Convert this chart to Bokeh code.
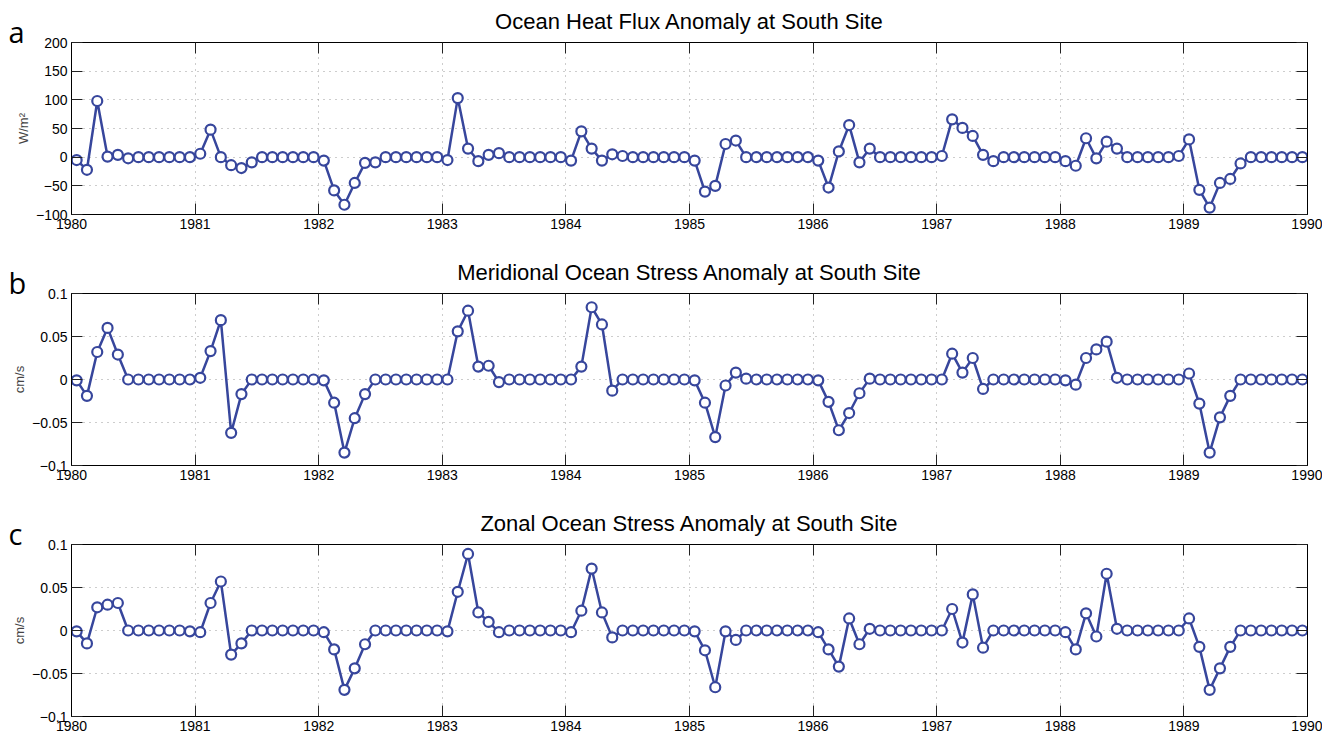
import numpy as np
from bokeh.plotting import figure
from bokeh.layouts import column
from bokeh.models import (Range1d, LinearAxis, FixedTicker, CustomJSTickFormatter,
                          Title, ColumnDataSource)
from bokeh.embed import file_html
from bokeh.resources import INLINE

# ---------------- data ----------------
years = list(range(1980, 1991))
month_index = np.arange(120)
time = 1980 + (month_index + 0.5) / 12.0   # mid-month positions

heat_flux = [
    -5, -22, 98, 1, 4, -2, 0, 0, 0, 0, 0, 0,            # 1980
    6, 48, 0, -14, -19, -9, 0, 0, 0, 0, 0, 0,           # 1981
    -6, -58, -83, -45, -10, -9, 0, 0, 0, 0, 0, 0,       # 1982
    -5, 103, 15, -7, 4, 7, 0, 0, 0, 0, 0, 0,            # 1983
    -6, 45, 15, -6, 5, 2, 0, 0, 0, 0, 0, 0,             # 1984
    -6, -60, -50, 23, 29, 0, 0, 0, 0, 0, 0, 0,          # 1985
    -6, -53, 10, 56, -9, 15, 0, 0, 0, 0, 0, 0,          # 1986
    2, 66, 51, 37, 4, -7, 0, 0, 0, 0, 0, 0,             # 1987
    -7, -15, 33, -2, 27, 15, 0, 0, 0, 0, 0, 2,          # 1988
    31, -57, -88, -45, -38, -11, 0, 0, 0, 0, 0, 0,      # 1989
]

meridional_stress = [
    -0.001, -0.019, 0.032, 0.060, 0.029, 0, 0, 0, 0, 0, 0, 0,
    0.002, 0.033, 0.069, -0.062, -0.017, 0, 0, 0, 0, 0, 0, 0,
    -0.001, -0.027, -0.085, -0.045, -0.017, 0, 0, 0, 0, 0, 0, 0,
    0, 0.056, 0.080, 0.015, 0.016, -0.003, 0, 0, 0, 0, 0, 0,
    0, 0.015, 0.084, 0.064, -0.013, 0, 0, 0, 0, 0, 0, 0,
    -0.001, -0.027, -0.067, -0.007, 0.008, 0.001, 0, 0, 0, 0, 0, 0,
    -0.001, -0.026, -0.059, -0.039, -0.016, 0.001, 0, 0, 0, 0, 0, 0,
    0, 0.030, 0.008, 0.025, -0.011, 0, 0, 0, 0, 0, 0, 0,
    -0.001, -0.006, 0.025, 0.035, 0.044, 0.002, 0, 0, 0, 0, 0, 0,
    0.007, -0.028, -0.085, -0.044, -0.019, 0, 0, 0, 0, 0, 0, 0,
]

zonal_stress = [
    -0.001, -0.015, 0.027, 0.030, 0.032, 0, 0, 0, 0, 0, 0, -0.001,
    -0.002, 0.032, 0.057, -0.028, -0.015, 0, 0, 0, 0, 0, 0, 0,
    -0.002, -0.022, -0.069, -0.044, -0.016, 0, 0, 0, 0, 0, 0, 0,
    -0.001, 0.045, 0.089, 0.021, 0.010, -0.002, 0, 0, 0, 0, 0, 0,
    -0.002, 0.023, 0.072, 0.021, -0.008, 0, 0, 0, 0, 0, 0, 0,
    -0.001, -0.023, -0.066, -0.001, -0.011, 0, 0, 0, 0, 0, 0, 0,
    -0.002, -0.022, -0.042, 0.014, -0.016, 0.002, 0, 0, 0, 0, 0, 0,
    0, 0.025, -0.014, 0.042, -0.020, 0, 0, 0, 0, 0, 0, 0,
    -0.002, -0.022, 0.020, -0.007, 0.066, 0.002, 0, 0, 0, 0, 0, 0,
    0.014, -0.019, -0.069, -0.044, -0.019, 0, 0, 0, 0, 0, 0, 0,
]

heat_ticks = [-100, -50, 0, 50, 100, 150, 200]
stress_ticks = [-0.1, -0.05, 0, 0.05, 0.1]

titles = ["Ocean Heat Flux Anomaly at South Site",
          "Meridional Ocean Stress Anomaly at South Site",
          "Zonal Ocean Stress Anomaly at South Site"]
ylabels = ["W/m\u00b2", "cm/s", "cm/s"]
letters = ["a", "b", "c"]

# ---------------- styling ----------------
LINE_COLOR = "#37469c"
FONT = "Liberation Sans"
FRAME_W = 1236
LEFT = 71
RIGHT = 15
YFMT = CustomJSTickFormatter(code="""
    var v = Math.round(tick * 1000) / 1000;
    var s = v.toString();
    return s.replace('-', '\u2212');
""")


def style_axis(ax, ticks, show_labels=True):
    ax.ticker = FixedTicker(ticks=ticks)
    ax.major_tick_in = 11
    ax.major_tick_out = 0
    ax.major_tick_line_color = "#222222"
    ax.minor_tick_line_color = None
    ax.axis_line_color = "black"
    ax.axis_line_width = 1
    if show_labels:
        ax.major_label_text_font = FONT
        ax.major_label_text_font_size = "14px"
        ax.major_label_text_color = "black"
        ax.major_label_standoff = 4
    else:
        ax.major_label_text_font_size = "0px"
        ax.major_label_standoff = 0
        ax.formatter = CustomJSTickFormatter(code="return '';")


def make_panel(values, title, ylabel, letter, yrange, yticks, height, top, bottom):
    p = figure(width=LEFT + FRAME_W + RIGHT, height=height,
               x_range=Range1d(1980, 1990), y_range=Range1d(*yrange),
               output_backend="svg", toolbar_location=None,
               min_border_left=LEFT, min_border_right=RIGHT,
               min_border_top=top, min_border_bottom=bottom)
    p.background_fill_color = "white"
    p.border_fill_color = "white"
    p.outline_line_color = "black"

    # main title (outermost in the top panel)
    p.title.text = title
    p.title.align = "center"
    p.title.text_font = FONT
    p.title.text_font_size = "22px"
    p.title.text_font_style = "normal"
    p.title.text_color = "black"
    p.title.standoff = -22

    style_axis(p.xaxis[0], years)
    style_axis(p.yaxis[0], yticks)
    p.yaxis[0].formatter = YFMT
    p.yaxis[0].axis_label = ylabel
    p.yaxis[0].axis_label_text_font = FONT
    p.yaxis[0].axis_label_text_font_size = "13px"
    p.yaxis[0].axis_label_text_font_style = "normal"
    p.yaxis[0].axis_label_standoff = 2

    # top axis: inward ticks only; an invisible blank label reserves a few pixels
    top_ax = LinearAxis()
    style_axis(top_ax, years, show_labels=False)
    top_ax.axis_label = " "
    top_ax.axis_label_text_font_size = "1px"
    top_ax.axis_label_standoff = 1
    p.add_layout(top_ax, "above")
    right_ax = LinearAxis()
    style_axis(right_ax, yticks, show_labels=False)
    p.add_layout(right_ax, "right")

    # panel letter, left of the frame, between top axis and main title
    p.add_layout(Title(text=letter, align="left", offset=-63, standoff=-26,
                       vertical_align="bottom", text_font="Open Sans",
                       text_font_size="29px", text_font_style="normal",
                       text_color="black"), "above")

    for g in (p.xgrid[0], p.ygrid[0]):
        g.grid_line_color = "#9a9a9a"
        g.grid_line_dash = "1 5"
        g.grid_line_width = 1

    src = ColumnDataSource(dict(t=time, v=values))
    p.line("t", "v", source=src, line_color=LINE_COLOR, line_width=2.5)
    p.scatter("t", "v", source=src, marker="circle", size=10,
              fill_color="white", line_color=LINE_COLOR, line_width=2.2)
    return p


pa = make_panel(heat_flux, titles[0], ylabels[0], letters[0], (-100, 200), heat_ticks,
                height=250, top=42, bottom=36)
pb = make_panel(meridional_stress, titles[1], ylabels[1], letters[1], (-0.1, 0.1), stress_ticks,
                height=247, top=43, bottom=32)
pc = make_panel(zonal_stress, titles[2], ylabels[2], letters[2], (-0.1, 0.1), stress_ticks,
                height=238, top=47, bottom=19)

layout = column(pa, pb, pc, spacing=0)
open("out.html", "w").write(file_html(layout, INLINE))
